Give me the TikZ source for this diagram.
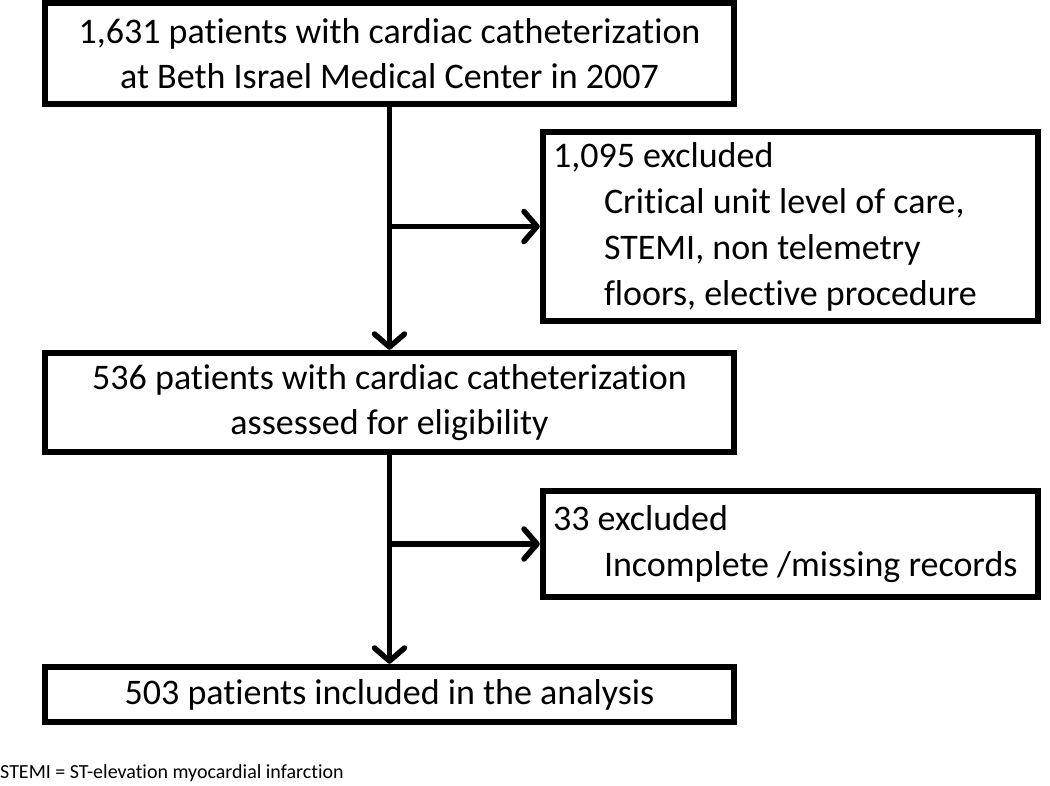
\documentclass[tikz,border=0pt]{standalone}
\usepackage{fontspec}
\setmainfont[Ligatures=NoCommon]{Carlito}
\usetikzlibrary{arrows.meta}
\begin{document}
\begin{tikzpicture}[x=1pt,y=-1pt,
  box/.style={draw,line width=6.5pt,minimum width=689pt,inner sep=0pt,align=center,
    font=\fontsize{36}{45}\selectfont},
  exbox/.style={draw,line width=6.5pt,minimum width=495pt,text width=475pt,inner xsep=10pt,inner ysep=0pt,align=flush left,
    font=\fontsize{36}{46}\selectfont},
  flow/.style={line width=5.5pt,-{Straight Barb[round,length=13pt,width=30pt]}}]
\useasboundingbox (0,0) rectangle (1050,786);
\node[box,minimum height=101pt] (top) at (389.5,53.5) {1,631 patients with cardiac catheterization\\at Beth Israel Medical Center in 2007};
\node[exbox,minimum height=189pt] (ex1) at (790.5,226.5) {1,095 excluded\\\hspace*{51pt}Critical unit level of care,\\\hspace*{51pt}STEMI, non telemetry\\\hspace*{51pt}floors, elective procedure};
\node[box,minimum height=99pt] (mid) at (389.5,402.5) {536 patients with cardiac catheterization\\assessed for eligibility};
\node[exbox,minimum height=106pt] (ex2) at (790.5,544) {33 excluded\\\hspace*{51pt}Incomplete /missing records};
\node[box,minimum height=55pt] (bot) at (389.5,694.5) {503 patients included in the analysis};
\node[anchor=west,inner sep=0pt,font=\fontsize{20}{24}\selectfont] (note) at (0,773) {STEMI = ST-elevation myocardial infarction};
\coordinate (j1) at (top.south |- ex1.west);
\coordinate (j2) at (mid.south |- ex2.west);
\draw[flow] (top.south) -- (mid.north);
\draw[flow] (j1) -- (ex1.west);
\draw[flow] (mid.south) -- (bot.north);
\draw[flow] (j2) -- (ex2.west);
\end{tikzpicture}
\end{document}
